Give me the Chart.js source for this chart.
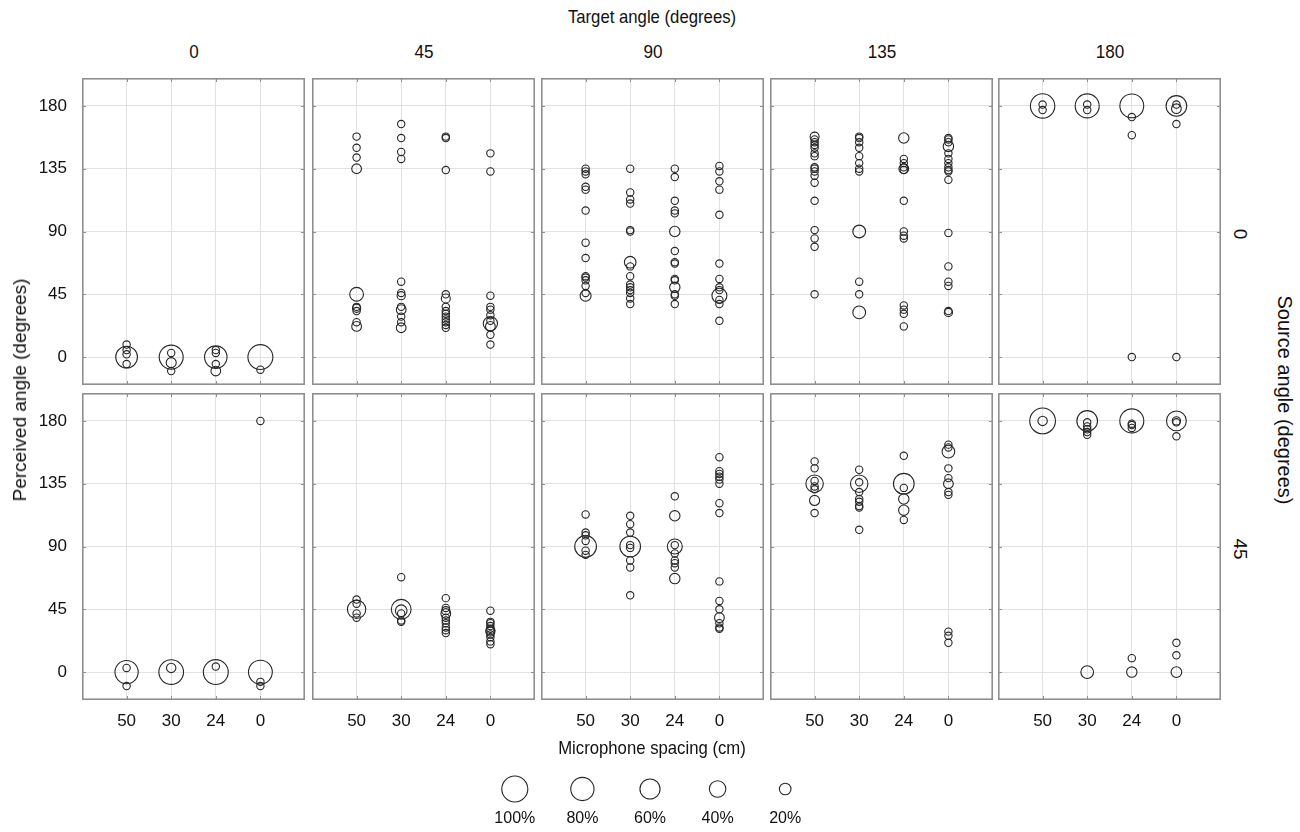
<!DOCTYPE html>
<html>
<head>
<meta charset="utf-8">
<script src="https://cdn.jsdelivr.net/npm/chart.js@4.4.1/dist/chart.umd.min.js"></script>
<style>
  body { margin: 0; background: #fff; font-family: "Liberation Sans", Arial, Helvetica, sans-serif; }
  #page { position: relative; width: 1300px; height: 832px; overflow: hidden; }
  canvas { position: absolute; }
  .lbl { position: absolute; color: #111; font-size: 19px; white-space: nowrap; }
</style>
</head>
<body>
<div id="page"></div>
<script>
// categories and ticks
const spacings = [50, 30, 24, 0];
const targetAngles = [0, 45, 90, 135, 180];
const sourceAngles = [0, 45];
const yTicks = [0, 45, 90, 135, 180];
const legendSizes = [100, 80, 60, 40, 20];

// each point: [spacing, perceived angle, % of responses]
const src0_tgt0 = [
  [50, 9, 8], [50, 5, 8], [50, 2, 8], [50, 0, 70], [50, -5, 8],
  [30, 3, 8], [30, 0, 85], [30, -4, 15], [30, -10, 8],
  [24, 5, 8], [24, 3, 8], [24, 0, 75], [24, -5, 8], [24, -10, 14],
  [0, 0, 92], [0, -9, 8]
];
const src0_tgt45 = [
  [50, 158, 8], [50, 150, 8], [50, 143, 8], [50, 135, 14], [50, 45, 28], [50, 36, 8], [50, 35, 10], [50, 33, 8], [50, 25, 8], [50, 22, 14],
  [30, 167, 8], [30, 157, 8], [30, 147, 8], [30, 142, 8], [30, 54, 8], [30, 46, 8], [30, 44, 10], [30, 36, 8], [30, 34, 14], [30, 29, 8], [30, 25, 8], [30, 21, 14],
  [24, 158, 8], [24, 157, 8], [24, 134, 8], [24, 45, 8], [24, 42, 12], [24, 36, 8], [24, 33, 8], [24, 31, 8], [24, 29, 8], [24, 27, 8], [24, 25, 8], [24, 23, 8], [24, 21, 8],
  [0, 146, 8], [0, 133, 8], [0, 44, 8], [0, 36, 8], [0, 34, 8], [0, 30, 8], [0, 26, 8], [0, 24, 30], [0, 22, 14], [0, 16, 8], [0, 9, 8]
];
const src0_tgt90 = [
  [50, 135, 8], [50, 133, 8], [50, 131, 8], [50, 122, 8], [50, 120, 8], [50, 105, 8], [50, 82, 8], [50, 71, 8], [50, 58, 8], [50, 57, 8], [50, 55, 8], [50, 51, 8], [50, 46, 8], [50, 44, 18],
  [30, 135, 8], [30, 118, 8], [30, 113, 8], [30, 110, 8], [30, 91, 8], [30, 90, 8], [30, 68, 20], [30, 65, 8], [30, 58, 8], [30, 52, 8], [30, 50, 8], [30, 48, 8], [30, 46, 8], [30, 42, 8], [30, 38, 8],
  [24, 135, 8], [24, 129, 8], [24, 112, 8], [24, 105, 8], [24, 103, 8], [24, 90, 16], [24, 76, 8], [24, 68, 8], [24, 67, 8], [24, 56, 8], [24, 55, 8], [24, 50, 16], [24, 45, 8], [24, 44, 8], [24, 38, 8],
  [0, 137, 8], [0, 133, 8], [0, 126, 8], [0, 120, 8], [0, 102, 8], [0, 67, 8], [0, 56, 8], [0, 50, 8], [0, 48, 8], [0, 44, 33], [0, 41, 8], [0, 38, 8], [0, 26, 8]
];
const src0_tgt135 = [
  [50, 158, 12], [50, 156, 8], [50, 154, 8], [50, 152, 8], [50, 150, 8], [50, 146, 8], [50, 144, 8], [50, 136, 8], [50, 135, 8], [50, 133, 8], [50, 130, 8], [50, 125, 8], [50, 112, 8], [50, 91, 8], [50, 85, 8], [50, 79, 8], [50, 45, 8],
  [30, 158, 8], [30, 157, 8], [30, 154, 8], [30, 150, 8], [30, 144, 8], [30, 139, 8], [30, 135, 8], [30, 133, 8], [30, 90, 24], [30, 54, 8], [30, 45, 8], [30, 32, 24],
  [24, 157, 16], [24, 142, 8], [24, 139, 8], [24, 136, 8], [24, 135, 14], [24, 134, 8], [24, 112, 8], [24, 90, 8], [24, 87, 8], [24, 85, 8], [24, 37, 8], [24, 34, 8], [24, 31, 8], [24, 22, 8],
  [0, 157, 8], [0, 156, 8], [0, 154, 8], [0, 151, 16], [0, 146, 8], [0, 142, 8], [0, 139, 8], [0, 136, 8], [0, 134, 8], [0, 133, 8], [0, 127, 8], [0, 89, 8], [0, 65, 8], [0, 54, 8], [0, 51, 8], [0, 33, 8], [0, 32, 10]
];
const src0_tgt180 = [
  [50, 180, 88], [50, 181, 8], [50, 177, 8],
  [30, 180, 85], [30, 181, 8], [30, 177, 8],
  [24, 180, 84], [24, 172, 8], [24, 159, 8], [24, 0, 8],
  [0, 180, 63], [0, 181, 8], [0, 178, 14], [0, 167, 8], [0, 0, 8]
];
const src45_tgt0 = [
  [50, 0, 80], [50, 3, 8], [50, -10, 8],
  [30, 0, 90], [30, 3, 13],
  [24, 0, 92], [24, 4, 8],
  [0, 180, 8], [0, 0, 84], [0, -7, 8], [0, -10, 8]
];
const src45_tgt45 = [
  [50, 52, 8], [50, 49, 8], [50, 45, 50], [50, 42, 8], [50, 39, 8],
  [30, 68, 8], [30, 45, 58], [30, 44, 20], [30, 42, 8], [30, 37, 8], [30, 36, 8],
  [24, 53, 8], [24, 46, 8], [24, 44, 10], [24, 42, 14], [24, 39, 8], [24, 37, 8], [24, 35, 8], [24, 32, 8], [24, 30, 8], [24, 28, 8],
  [0, 44, 8], [0, 36, 8], [0, 35, 8], [0, 33, 8], [0, 31, 8], [0, 30, 12], [0, 29, 12], [0, 27, 8], [0, 25, 8], [0, 22, 8], [0, 20, 8]
];
const src45_tgt90 = [
  [50, 113, 8], [50, 100, 8], [50, 98, 8], [50, 94, 8], [50, 90, 70], [50, 87, 8], [50, 84, 8],
  [30, 112, 8], [30, 106, 8], [30, 100, 8], [30, 91, 8], [30, 90, 63], [30, 89, 8], [30, 80, 8], [30, 75, 8], [30, 55, 8],
  [24, 126, 8], [24, 112, 16], [24, 91, 8], [24, 90, 33], [24, 85, 8], [24, 80, 8], [24, 78, 8], [24, 75, 8], [24, 67, 16],
  [0, 154, 8], [0, 144, 8], [0, 142, 8], [0, 140, 8], [0, 138, 8], [0, 135, 8], [0, 121, 8], [0, 114, 8], [0, 65, 8], [0, 51, 8], [0, 45, 8], [0, 39, 14], [0, 35, 8], [0, 32, 8], [0, 31, 8]
];
const src45_tgt135 = [
  [50, 151, 8], [50, 146, 8], [50, 137, 8], [50, 135, 45], [50, 133, 8], [50, 131, 8], [50, 123, 15], [50, 114, 8],
  [30, 145, 8], [30, 136, 8], [30, 135, 45], [30, 129, 8], [30, 124, 8], [30, 122, 8], [30, 119, 8], [30, 118, 8], [30, 102, 8],
  [24, 155, 8], [24, 135, 63], [24, 132, 8], [24, 124, 16], [24, 116, 16], [24, 109, 8],
  [0, 163, 8], [0, 161, 8], [0, 158, 24], [0, 146, 8], [0, 139, 8], [0, 135, 14], [0, 129, 8], [0, 127, 8], [0, 29, 8], [0, 26, 8], [0, 21, 8]
];
const src45_tgt180 = [
  [50, 180, 98], [50, 180, 13],
  [30, 180, 63], [30, 179, 8], [30, 176, 8], [30, 174, 8], [30, 172, 8], [30, 170, 8], [30, 0, 24],
  [24, 180, 85], [24, 178, 8], [24, 177, 8], [24, 175, 8], [24, 10, 8], [24, 0, 16],
  [0, 180, 58], [0, 180, 10], [0, 179, 8], [0, 169, 8], [0, 21, 8], [0, 12, 8], [0, 0, 17]
];

const panels = [
  [src0_tgt0, src0_tgt45, src0_tgt90, src0_tgt135, src0_tgt180],
  [src45_tgt0, src45_tgt45, src45_tgt90, src45_tgt135, src45_tgt180]
];

const FONT = '"Liberation Sans", Arial, Helvetica, sans-serif';
Chart.defaults.font.family = FONT;
Chart.defaults.color = '#111';

const page = document.getElementById('page');
const colLeft = [82, 312, 541, 770, 998];
const rowTop = [78, 393];
const PW = 223, PH = 307;
const YPAD = 60, XPAD = 40;

function bubbleR(p) { return 13 * Math.sqrt(p / 100); }

function label(text, x, y, transform, size) {
  const d = document.createElement('div');
  d.className = 'lbl';
  d.textContent = text;
  d.style.left = x + 'px';
  d.style.top = y + 'px';
  if (size) d.style.fontSize = size + 'px';
  d.style.transform = 'translate(-50%,-50%) ' + (transform || '');
  page.appendChild(d);
}

function addCanvas(left, top, w, h) {
  const cv = document.createElement('canvas');
  cv.width = w; cv.height = h;
  cv.style.left = left + 'px';
  cv.style.top = top + 'px';
  cv.style.width = w + 'px';
  cv.style.height = h + 'px';
  page.appendChild(cv);
  return cv;
}

// box around each panel with small inward tick marks
const boxPlugin = {
  id: 'box',
  afterDraw(chart) {
    const { ctx, chartArea: a, scales } = chart;
    ctx.save();
    ctx.strokeStyle = '#8f8f8f';
    ctx.lineWidth = 1;
    ctx.beginPath();
    scales.y.ticks.forEach(t => {
      const py = Math.round(scales.y.getPixelForValue(t.value)) + 0.5;
      ctx.moveTo(a.left, py); ctx.lineTo(a.left + 4, py);
      ctx.moveTo(a.right, py); ctx.lineTo(a.right - 4, py);
    });
    scales.x.ticks.forEach(t => {
      const px = Math.round(scales.x.getPixelForValue(t.value)) + 0.5;
      ctx.moveTo(px, a.top); ctx.lineTo(px, a.top + 4);
      ctx.moveTo(px, a.bottom); ctx.lineTo(px, a.bottom - 4);
    });
    ctx.stroke();
    ctx.lineWidth = 1.6;
    ctx.strokeRect(a.left + 0.8, a.top + 0.8, a.width - 1.6, a.height - 1.6);
    ctx.restore();
  }
};

function makePanel(r, c, points) {
  const showY = c === 0, showX = r === 1;
  const w = PW + (showY ? YPAD : 0);
  const h = PH + (showX ? XPAD : 0);
  const cv = addCanvas(colLeft[c] - (showY ? YPAD : 0), rowTop[r], w, h);
  new Chart(cv, {
    type: 'bubble',
    data: {
      datasets: [{
        data: points.map(([s, y, p]) => ({ x: spacings.indexOf(s) + 1, y: y, r: bubbleR(p) })),
        backgroundColor: 'rgba(0,0,0,0)',
        borderColor: '#262626',
        borderWidth: 1.1
      }]
    },
    options: {
      responsive: false,
      animation: false,
      events: [],
      layout: { padding: 0, autoPadding: false },
      plugins: { legend: { display: false }, tooltip: { enabled: false } },
      scales: {
        x: {
          type: 'linear', min: 0, max: 5,
          afterBuildTicks: s => { s.ticks = spacings.map((v, i) => ({ value: i + 1 })); },
          afterFit: s => { s.height = showX ? XPAD : 0; s.paddingLeft = 0; s.paddingRight = 0; },
          grid: { color: '#e2e2e2', drawTicks: false },
          border: { display: false },
          ticks: {
            display: showX, padding: 11, maxRotation: 0, autoSkip: false,
            font: { size: 17 },
            callback: v => spacings[v - 1]
          }
        },
        y: {
          type: 'linear', min: -20, max: 200,
          afterBuildTicks: s => { s.ticks = yTicks.map(v => ({ value: v })); },
          afterFit: s => { s.width = showY ? YPAD : 0; s.paddingTop = 0; s.paddingBottom = 0; },
          grid: { color: '#e2e2e2', drawTicks: false },
          border: { display: false },
          ticks: { display: showY, padding: 15, font: { size: 17 }, callback: v => v }
        }
      }
    },
    plugins: [boxPlugin]
  });
}

panels.forEach((row, r) => row.forEach((pts, c) => makePanel(r, c, pts)));

// legend of bubble sizes
const lg = addCanvas(481, 772, 338, 64);
new Chart(lg, {
  type: 'bubble',
  data: {
    datasets: [{
      data: legendSizes.map((p, i) => ({ x: i + 1, y: 0, r: bubbleR(p) })),
      backgroundColor: 'rgba(0,0,0,0)',
      borderColor: '#262626',
      borderWidth: 1.1,
      clip: false
    }]
  },
  options: {
    responsive: false,
    animation: false,
    events: [],
    layout: { padding: 0, autoPadding: false },
    plugins: { legend: { display: false }, tooltip: { enabled: false } },
    scales: {
      x: {
        type: 'linear', min: 0.5, max: 5.5,
        afterBuildTicks: s => { s.ticks = legendSizes.map((v, i) => ({ value: i + 1 })); },
        afterFit: s => { s.height = 30; s.paddingLeft = 0; s.paddingRight = 0; },
        grid: { display: false, drawTicks: false },
        border: { display: false },
        ticks: { padding: 3, maxRotation: 0, autoSkip: false, font: { size: 16 }, callback: v => legendSizes[v - 1] + '%' }
      },
      y: { display: false, min: -1, max: 1 }
    }
  }
});

// titles and facet labels
label('Target angle (degrees)', 652, 17, 'scaleX(0.88)');
targetAngles.forEach((t, i) => label(String(t), colLeft[i] + PW / 2, 52, 'scaleX(0.9)'));
label('Microphone spacing (cm)', 652, 748, 'scaleX(0.88)');
label('Perceived angle (degrees)', 20, 390, 'rotate(-90deg)');
sourceAngles.forEach((s, i) => label(String(s), 1240, rowTop[i] + PH / 2 + 2, 'rotate(90deg)'));
label('Source angle (degrees)', 1284, 400, 'rotate(90deg)', 20);
</script>
</body>
</html>
